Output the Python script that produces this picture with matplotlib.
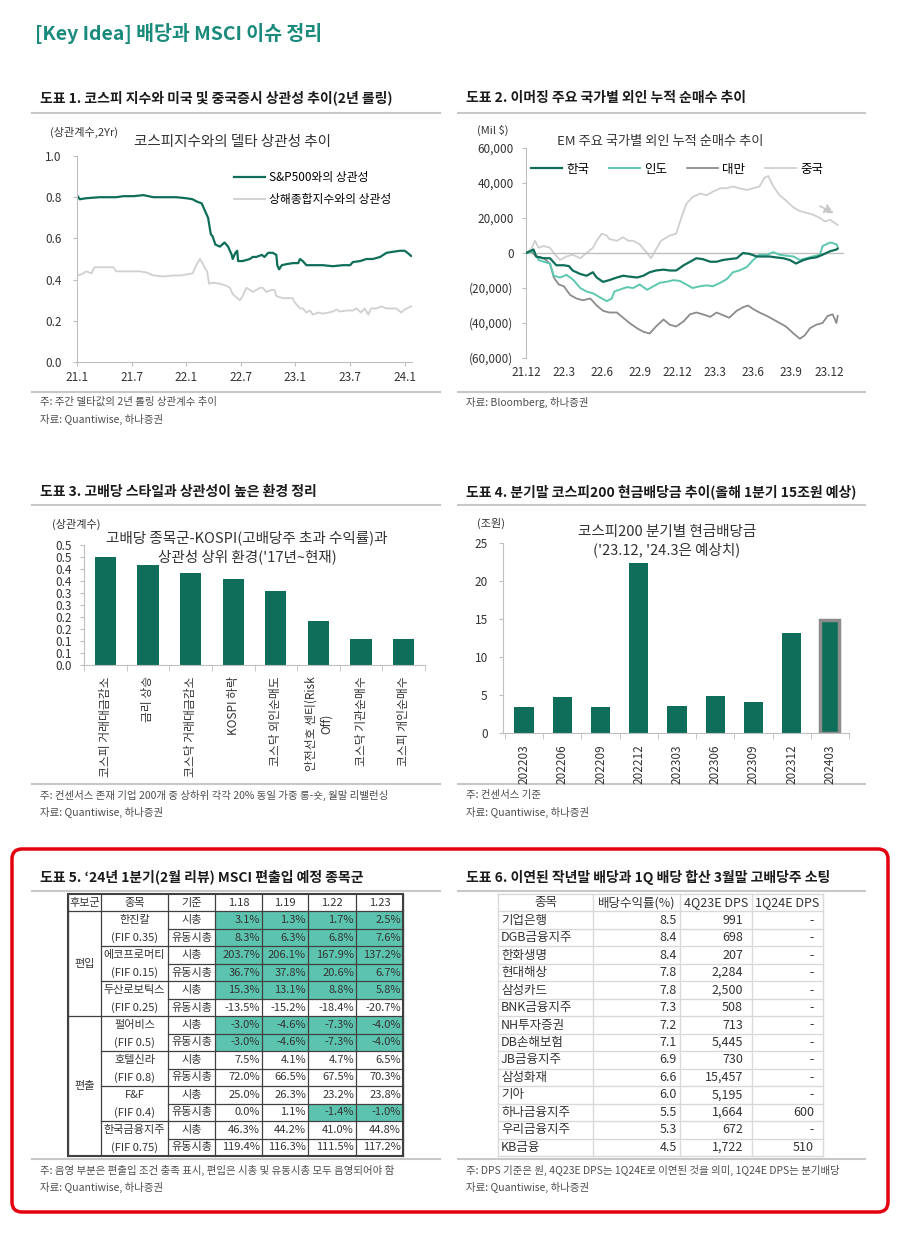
import numpy as np
import matplotlib
matplotlib.use("Agg")
import matplotlib.pyplot as plt
from matplotlib.patches import Rectangle, FancyBboxPatch

plt.rcParams['font.family'] = ['Noto Sans CJK KR', 'DejaVu Sans']
plt.rcParams['axes.unicode_minus'] = False

# ---------------- data ----------------
# chart 1: months since 2021-01, correlation
sp_m = [0.0, 0.3, 1.0, 2.5, 4.3, 5.1, 6.2, 7.3, 8.4, 9.8, 10.9, 12.0, 12.7, 13.1, 13.7, 14.0, 14.4, 14.7, 14.9, 15.2,
        15.7, 16.2, 16.6, 17.0, 17.1, 17.4, 17.6, 17.7, 18.2, 19.0, 19.3, 19.7, 20.3, 20.6, 21.0, 21.5, 21.9, 22.0,
        22.2, 22.5, 23.0, 23.7, 24.3, 24.5, 24.8, 25.2, 25.9, 27.0, 28.1, 29.2, 30.0, 30.3, 31.1, 31.8, 32.5, 33.3,
        34.0, 34.7, 35.5, 36.0, 36.3, 36.7]
sp_v = [0.81, 0.79, 0.795, 0.80, 0.80, 0.805, 0.805, 0.81, 0.80, 0.80, 0.80, 0.795, 0.79, 0.78, 0.77, 0.74, 0.70,
        0.62, 0.61, 0.57, 0.56, 0.58, 0.56, 0.52, 0.50, 0.53, 0.54, 0.49, 0.49, 0.50, 0.51, 0.51, 0.52, 0.51, 0.53,
        0.53, 0.52, 0.47, 0.45, 0.47, 0.475, 0.48, 0.48, 0.50, 0.49, 0.47, 0.47, 0.47, 0.465, 0.47, 0.47, 0.485,
        0.49, 0.50, 0.50, 0.51, 0.53, 0.535, 0.54, 0.54, 0.53, 0.515]
sh_m = [0.0, 0.5, 1.0, 1.6, 1.9, 2.5, 3.2, 4.0, 4.3, 5.4, 6.9, 7.6, 8.4, 9.5, 10.5, 11.3, 12.0, 12.7, 13.1, 13.5,
        13.8, 14.0, 14.3, 14.5, 14.9, 15.7, 16.4, 16.8, 17.1, 17.6, 17.9, 18.2, 18.6, 19.0, 19.3, 20.1, 20.4, 20.8,
        21.4, 21.7, 21.9, 22.6, 23.4, 23.7, 23.9, 24.5, 24.8, 25.2, 25.6, 25.9, 26.5, 27.0, 27.6, 28.1, 28.5, 28.9,
        29.6, 30.3, 30.7, 31.2, 31.6, 32.0, 32.3, 32.9, 33.4, 34.0, 35.1, 35.6, 36.0, 36.7]
sh_v = [0.42, 0.425, 0.44, 0.43, 0.46, 0.46, 0.46, 0.46, 0.44, 0.44, 0.44, 0.435, 0.42, 0.415, 0.42, 0.42, 0.425,
        0.43, 0.47, 0.50, 0.48, 0.46, 0.44, 0.38, 0.385, 0.38, 0.37, 0.36, 0.33, 0.31, 0.30, 0.32, 0.36, 0.35, 0.34,
        0.36, 0.36, 0.34, 0.35, 0.35, 0.32, 0.31, 0.31, 0.31, 0.29, 0.26, 0.26, 0.24, 0.25, 0.23, 0.24, 0.235, 0.24,
        0.245, 0.255, 0.245, 0.25, 0.25, 0.26, 0.24, 0.26, 0.23, 0.26, 0.26, 0.27, 0.26, 0.26, 0.24, 0.255, 0.27]
c1_ticks = ['21.1', '21.7', '22.1', '22.7', '23.1', '23.7', '24.1']

# chart 2: months since 2021-12, cumulative net buy (Mil $)
kr_m = [0.0, 0.3, 0.6, 0.8, 1.4, 1.9, 2.4, 3.0, 3.4, 3.7, 4.3, 4.8, 5.3, 5.6, 6.1, 6.6, 7.2, 7.7, 8.2, 8.8, 9.3,
        9.8, 10.3, 10.9, 11.4, 11.9, 12.5, 13.0, 13.5, 14.0, 14.6, 15.1, 15.6, 16.1, 16.7, 17.2, 17.7, 18.3, 18.8,
        19.3, 19.8, 20.4, 20.9, 21.4, 22.0, 22.5, 23.0, 23.5, 24.1, 24.6, 24.7]
kr_v = [0, 1000, 2000, -2000, -3000, -3000, -7000, -7000, -7500, -10000, -12000, -13000, -11000, -14000, -16500,
        -15500, -14000, -13000, -13500, -14000, -13000, -11000, -10000, -9500, -10000, -10000, -7000, -5000, -3000,
        -3500, -5000, -5000, -4000, -3500, -3000, 0, -500, -2000, -2000, -2000, -2500, -3000, -4000, -6000, -4000,
        -3000, -2500, -1000, 1000, 2000, 2500]
in_m = [0.0, 0.6, 1.0, 1.4, 1.9, 2.2, 2.7, 3.2, 3.7, 4.3, 4.8, 5.3, 5.9, 6.4, 6.8, 7.0, 7.4, 8.0, 8.5, 9.0, 9.6,
        10.1, 10.6, 11.1, 11.7, 12.2, 12.7, 13.2, 13.8, 14.3, 14.8, 15.4, 15.9, 16.4, 16.9, 17.5, 18.0, 18.5, 19.1,
        19.6, 20.1, 20.6, 21.2, 21.7, 22.2, 22.7, 23.3, 23.5, 24.1, 24.6, 24.7]
in_v = [0, 1000, -4000, -5000, -6000, -13000, -14000, -12500, -15000, -20000, -22000, -23000, -25500, -27500,
        -26000, -22000, -21000, -19500, -20000, -18000, -21000, -19000, -17000, -16500, -15500, -16000, -18000,
        -20000, -19000, -18500, -19000, -17000, -15000, -11000, -10000, -8000, -4000, -1000, -1000, 500, -1000,
        -1500, -2000, -4000, -3000, -2000, -1000, 4000, 6000, 5000, 3500]
tw_m = [0.0, 0.4, 0.8, 1.4, 1.9, 2.2, 2.6, 3.0, 3.5, 4.0, 4.5, 5.1, 5.6, 6.1, 6.6, 7.2, 7.7, 8.2, 8.8, 9.3, 9.8,
        10.3, 10.9, 11.4, 11.9, 12.5, 13.0, 13.5, 14.0, 14.6, 15.1, 15.6, 16.1, 16.7, 17.2, 17.6, 18.0, 18.5, 19.1,
        19.6, 20.1, 20.6, 21.2, 21.7, 22.1, 22.5, 23.0, 23.5, 23.9, 24.3, 24.6, 24.7]
tw_v = [0, 1000, -2000, -3000, -6000, -14000, -18000, -19000, -24000, -26000, -27000, -26000, -30000, -33000,
        -34000, -34000, -37000, -40000, -43000, -45000, -46000, -42000, -38000, -41000, -42000, -39000, -35000,
        -34000, -35000, -36500, -34000, -35500, -37000, -33000, -31000, -30000, -32000, -34000, -36000, -38000,
        -40000, -42000, -46000, -49000, -47000, -43000, -41000, -40000, -36000, -35000, -40000, -36000]
cn_m = [0.0, 0.4, 0.7, 1.0, 1.4, 1.9, 2.3, 2.7, 3.2, 3.7, 4.3, 4.8, 5.3, 5.6, 6.0, 6.4, 6.6, 7.2, 7.7, 8.1, 8.5,
        9.0, 9.6, 9.9, 10.3, 10.7, 11.4, 11.9, 12.3, 12.7, 13.2, 13.8, 14.3, 14.8, 15.4, 15.9, 16.4, 16.9, 17.5,
        18.0, 18.5, 18.9, 19.2, 19.6, 20.1, 20.6, 21.2, 21.7, 22.2, 22.7, 23.3, 23.7, 24.1, 24.5, 24.7]
cn_v = [0, 2000, 7000, 3000, 4000, 3000, -1000, -4000, -2000, -1000, -3000, 0, 3000, 7000, 11000, 10000, 8000,
        7000, 9000, 7000, 7000, 5000, 0, -3000, 2000, 7000, 10000, 11000, 20000, 28000, 32000, 34000, 33000, 35000,
        37000, 37000, 38000, 37000, 36000, 37000, 38000, 43000, 44000, 38000, 33000, 30000, 26000, 24000, 23000,
        22000, 20000, 18000, 19000, 17000, 16000]
c2_ticks = ['21.12', '22.3', '22.6', '22.9', '22.12', '23.3', '23.6', '23.9', '23.12']
c2_yticks = ['(60,000)', '(40,000)', '(20,000)', '0', '20,000', '40,000', '60,000']

# chart 3
c3_cats = ['코스피 거래대금감소', '금리 상승', '코스닥 거래대금감소', 'KOSPI 하락', '코스닥 외인순매도',
           '안전선호 센티(Risk\nOff)', '코스닥 기관순매수', '코스피 개인순매수']
c3_vals = [0.45, 0.415, 0.385, 0.36, 0.31, 0.185, 0.11, 0.11]
c3_yticks = ['0.0', '0.1', '0.1', '0.2', '0.2', '0.3', '0.3', '0.4', '0.4', '0.5', '0.5']

# chart 4
c4_cats = ['202203', '202206', '202209', '202212', '202303', '202306', '202309', '202312', '202403']
c4_vals = [3.4, 4.7, 3.4, 22.4, 3.5, 4.9, 4.1, 13.2, 14.9]

# table 5
t5_groups = ['편입', '편출']
t5_spans = [6, 8]
t5_names = ['한진칼', '에코프로머티', '두산로보틱스', '펄어비스', '호텔신라', 'F&F', '한국금융지주']
t5_fif = ['(FIF 0.35)', '(FIF 0.15)', '(FIF 0.25)', '(FIF 0.5)', '(FIF 0.8)', '(FIF 0.4)', '(FIF 0.75)']
t5_basis = ['시총', '유동시총']
t5_dates = ['1.18', '1.19', '1.22', '1.23']
t5_vals = [['3.1%', '1.3%', '1.7%', '2.5%'],
           ['8.3%', '6.3%', '6.8%', '7.6%'],
           ['203.7%', '206.1%', '167.9%', '137.2%'],
           ['36.7%', '37.8%', '20.6%', '6.7%'],
           ['15.3%', '13.1%', '8.8%', '5.8%'],
           ['-13.5%', '-15.2%', '-18.4%', '-20.7%'],
           ['-3.0%', '-4.6%', '-7.3%', '-4.0%'],
           ['-3.0%', '-4.6%', '-7.3%', '-4.0%'],
           ['7.5%', '4.1%', '4.7%', '6.5%'],
           ['72.0%', '66.5%', '67.5%', '70.3%'],
           ['25.0%', '26.3%', '23.2%', '23.8%'],
           ['0.0%', '1.1%', '-1.4%', '-1.0%'],
           ['46.3%', '44.2%', '41.0%', '44.8%'],
           ['119.4%', '116.3%', '111.5%', '117.2%']]
t5_shade = [[1, 1, 1, 1], [1, 1, 1, 1], [1, 1, 1, 1], [1, 1, 1, 1], [1, 1, 1, 1], [0, 0, 0, 0],
            [1, 1, 1, 1], [1, 1, 1, 1], [0, 0, 0, 0], [0, 0, 0, 0], [0, 0, 0, 0], [0, 0, 1, 1],
            [0, 0, 0, 0], [0, 0, 0, 0]]

# table 6
t6_header = ['종목', '배당수익률(%)', '4Q23E DPS', '1Q24E DPS']
t6_names = ['기업은행', 'DGB금융지주', '한화생명', '현대해상', '삼성카드', 'BNK금융지주', 'NH투자증권',
            'DB손해보험', 'JB금융지주', '삼성화재', '기아', '하나금융지주', '우리금융지주', 'KB금융']
t6_yield = [8.5, 8.4, 8.4, 7.8, 7.8, 7.3, 7.2, 7.1, 6.9, 6.6, 6.0, 5.5, 5.3, 4.5]
t6_dps4q = [991, 698, 207, 2284, 2500, 508, 713, 5445, 730, 15457, 5195, 1664, 672, 1722]
t6_dps1q = [None, None, None, None, None, None, None, None, None, None, None, 600, None, 510]

# ---------------- styles ----------------
GREEN = '#0e6e5a'
TEAL = '#5cc8b0'
SHADE = '#5cc4ae'
SPINE = '#bfbfbf'
TXT = '#333333'
NOTE = '#4d4d4d'

W, H = 900, 1233
fig = plt.figure(figsize=(9, 12.33), dpi=100)
fig.patch.set_facecolor('white')


def px_axes(l, t, r, b):
    ax = fig.add_axes([l / W, 1 - b / H, (r - l) / W, (b - t) / H])
    ax.set_facecolor('none')
    return ax


ov = fig.add_axes([0, 0, 1, 1])
ov.set_xlim(0, W)
ov.set_ylim(H, 0)
ov.axis('off')

ov.text(35, 33, '[Key Idea] 배당과 MSCI 이슈 정리', fontsize=14, fontweight='bold', color='#1a8a7c',
        ha='left', va='center')


def section(x0, x1, y_title, y_line, title):
    ov.text(x0 + 8, y_title, title, fontsize=10, fontweight='bold', color='#1a1a1a', ha='left', va='center')
    ov.plot([x0, x1], [y_line, y_line], color='#c8c8c8', lw=1.5)


def notes(x0, x1, y_line, lines, y0):
    ov.plot([x0, x1], [y_line, y_line], color='#c8c8c8', lw=1.5)
    for k, s in enumerate(lines):
        ov.text(x0 + 8, y0 + k * 17, s, fontsize=7.5, color=NOTE, ha='left', va='center')


section(32, 440, 98, 113, '도표 1. 코스피 지수와 미국 및 중국증시 상관성 추이(2년 롤링)')
section(458, 865, 98, 113, '도표 2. 이머징 주요 국가별 외인 누적 순매수 추이')
section(32, 440, 492, 505, '도표 3. 고배당 스타일과 상관성이 높은 환경 정리')
section(458, 865, 492, 505, '도표 4. 분기말 코스피200 현금배당금 추이(올해 1분기 15조원 예상)')
section(32, 440, 877, 891, '도표 5. ‘24년 1분기(2월 리뷰) MSCI 편출입 예정 종목군')
section(458, 865, 877, 891, '도표 6. 이연된 작년말 배당과 1Q 배당 합산 3월말 고배당주 소팅')

notes(32, 440, 392, ['주: 주간 델타값의 2년 롤링 상관계수 추이', '자료: Quantiwise, 하나증권'], 402)
notes(458, 865, 392, ['자료: Bloomberg, 하나증권'], 402)
notes(32, 440, 784, ['주: 컨센서스 존재 기업 200개 중 상하위 각각 20% 동일 가중 롱-숏, 월말 리밸런싱',
                     '자료: Quantiwise, 하나증권'], 795)
notes(458, 865, 784, ['주: 컨센서스 기준', '자료: Quantiwise, 하나증권'], 795)
notes(32, 440, 1159, ['주: 음영 부분은 편출입 조건 충족 표시, 편입은 시총 및 유동시총 모두 음영되어야 함',
                      '자료: Quantiwise, 하나증권'], 1170)
notes(458, 865, 1159, ['주: DPS 기준은 원, 4Q23E DPS는 1Q24E로 이연된 것을 의미, 1Q24E DPS는 분기배당',
                       '자료: Quantiwise, 하나증권'], 1170)


def style_axes(ax):
    for s in ['top', 'right']:
        ax.spines[s].set_visible(False)
    for s in ['left', 'bottom']:
        ax.spines[s].set_color(SPINE)
    ax.tick_params(colors=SPINE, labelcolor=TXT, labelsize=8.5, length=3)


# ---------------- chart 1 ----------------
ax1 = px_axes(77, 156, 412, 362)
ax1.plot(sp_m, sp_v, color=GREEN, lw=1.6, label='S&P500와의 상관성')
ax1.plot(sh_m, sh_v, color='#d0d0d0', lw=1.3, label='상해종합지수와의 상관성')
ax1.set_xlim(0, 36.8)
ax1.set_ylim(0, 1)
ax1.set_xticks([0, 6, 12, 18, 24, 30, 36])
ax1.set_xticklabels(c1_ticks)
ax1.set_yticks([0, 0.2, 0.4, 0.6, 0.8, 1.0])
ax1.set_yticklabels(['0.0', '0.2', '0.4', '0.6', '0.8', '1.0'])
style_axes(ax1)
ax1.tick_params(axis='y', pad=8)
ax1.legend(loc='upper left', bbox_to_anchor=(0.47, 0.925), frameon=False, fontsize=8.5, handlelength=2.6,
           handletextpad=0.3, labelspacing=0.75, borderaxespad=0, borderpad=0)
ov.text(50, 132, '(상관계수,2Yr)', fontsize=8, color=TXT, ha='left', va='center')
ov.text(233, 142, '코스피지수와의 델타 상관성 추이', fontsize=10.5, color=TXT, ha='center', va='center')

# ---------------- chart 2 ----------------
ax2 = px_axes(526, 148, 844, 358)
ax2.axhline(0, color=SPINE, lw=1)
ax2.plot(kr_m, kr_v, color=GREEN, lw=1.6, label='한국', zorder=4)
ax2.plot(in_m, in_v, color=TEAL, lw=1.4, label='인도', zorder=3)
ax2.plot(tw_m, tw_v, color='#8c8c8c', lw=1.3, label='대만', zorder=2)
ax2.plot(cn_m, cn_v, color='#cfcfcf', lw=1.3, label='중국', zorder=1)
ax2.annotate('', xy=(24.6, 22000), xytext=(23.1, 27500),
             arrowprops=dict(arrowstyle='-|>', linestyle=(0, (3, 2)), color='#c8c8c8', lw=1.2,
                             mutation_scale=14))
ax2.set_xlim(0, 25.2)
ax2.set_ylim(-60000, 60000)
ax2.set_xticks([0, 3, 6, 9, 12, 15, 18, 21, 24])
ax2.set_xticklabels(c2_ticks)
ax2.set_yticks([-60000, -40000, -20000, 0, 20000, 40000, 60000])
ax2.set_yticklabels(c2_yticks)
style_axes(ax2)
ax2.spines['bottom'].set_visible(False)
ax2.tick_params(axis='x', length=0, pad=6)
ax2.tick_params(axis='y', pad=6)
ax2.legend(ncol=4, loc='center', bbox_to_anchor=(0.475, 0.9), frameon=False, fontsize=9, handlelength=2.5,
           handletextpad=0.3, columnspacing=1.6, borderpad=0)
ov.text(477, 130, '(Mil $)', fontsize=8, color=TXT, ha='left', va='center')
ov.text(660, 141, 'EM 주요 국가별 외인 누적 순매수 추이', fontsize=9.5, color=TXT, ha='center', va='center')

# ---------------- chart 3 ----------------
ax3 = px_axes(84, 545, 425, 665)
x3 = np.arange(len(c3_cats))
ax3.bar(x3, c3_vals, width=0.5, color=GREEN)
ax3.set_xlim(-0.5, len(c3_cats) - 0.5)
ax3.set_ylim(0, 0.5)
ax3.set_yticks(np.linspace(0, 0.5, 11))
ax3.set_yticklabels(c3_yticks)
ax3.set_xticks(x3)
ax3.set_xticklabels(c3_cats, rotation=90, va='top', ha='center')
ax3.set_xticks(np.arange(len(c3_cats) + 1) - 0.5, minor=True)
style_axes(ax3)
ax3.tick_params(axis='x', which='major', length=0, pad=8, labelsize=8.5)
ax3.tick_params(axis='x', which='minor', length=4, color=SPINE)
ax3.tick_params(axis='y', labelsize=8.5, pad=6)
ov.text(52, 524, '(상관계수)', fontsize=8, color=TXT, ha='left', va='center')
ov.text(247, 538, '고배당 종목군-KOSPI(고배당주 초과 수익률)과', fontsize=10.5, color=TXT, ha='center', va='center')
ov.text(247, 557, "상관성 상위 환경('17년~현재)", fontsize=10.5, color=TXT, ha='center', va='center')

# ---------------- chart 4 ----------------
ax4 = px_axes(503, 543, 849, 733)
x4 = np.arange(len(c4_cats))
bars = ax4.bar(x4, c4_vals, width=0.5, color=GREEN)
bars[-1].set_edgecolor('#8c8c8c')
bars[-1].set_linewidth(2.5)
ax4.set_xlim(-0.55, len(c4_cats) - 0.5)
ax4.set_ylim(0, 25)
ax4.set_yticks([0, 5, 10, 15, 20, 25])
ax4.set_xticks(x4)
ax4.set_xticklabels(c4_cats, rotation=90, va='top', ha='center')
ax4.set_xticks(np.arange(len(c4_cats) + 1) - 0.5, minor=True)
style_axes(ax4)
ax4.tick_params(axis='x', which='major', length=0, pad=8, labelsize=8.5)
ax4.tick_params(axis='x', which='minor', length=4, color=SPINE)
ax4.tick_params(axis='y', pad=8)
ov.text(477, 523, '(조원)', fontsize=8, color=TXT, ha='left', va='center')
ov.text(667, 532, '코스피200 분기별 현금배당금', fontsize=10.5, color=TXT, ha='center', va='center')
ov.text(667, 550, "('23.12, '24.3은 예상치)", fontsize=10.5, color=TXT, ha='center', va='center')

# ---------------- table 5 ----------------
c5 = [68, 101, 168, 215, 262, 308, 356, 403]
top, rh = 894, 17.47
LINE = '#404040'


def ry(i):
    return top + i * rh


for i, row in enumerate(t5_shade):
    for j, s in enumerate(row):
        if s:
            ov.add_patch(Rectangle((c5[3 + j], ry(i + 1)), c5[4 + j] - c5[3 + j], rh, facecolor=SHADE,
                                   edgecolor='none'))
fs5 = 8
for j, h in enumerate(['후보군', '종목', '기준'] + t5_dates):
    ov.text((c5[j] + c5[j + 1]) / 2, ry(0.5), h, fontsize=fs5, color=TXT, ha='center', va='center')
start = 1
for g, span in zip(t5_groups, t5_spans):
    ov.text((c5[0] + c5[1]) / 2, ry(start + span / 2), g, fontsize=fs5, color=TXT, ha='center', va='center')
    start += span
for k, (n, f) in enumerate(zip(t5_names, t5_fif)):
    ov.text((c5[1] + c5[2]) / 2, ry(1 + 2 * k + 0.5), n, fontsize=fs5, color=TXT, ha='center', va='center')
    ov.text((c5[1] + c5[2]) / 2, ry(2 + 2 * k + 0.5), f, fontsize=fs5, color=TXT, ha='center', va='center')
for i, row in enumerate(t5_vals):
    ov.text((c5[2] + c5[3]) / 2, ry(i + 1.5), t5_basis[i % 2], fontsize=fs5, color=TXT, ha='center', va='center')
    for j, v in enumerate(row):
        ov.text(c5[4 + j] - 2, ry(i + 1.5), v, fontsize=fs5, color=TXT, ha='right', va='center')
for x in c5:
    ov.plot([x, x], [ry(0), ry(15)], color=LINE, lw=0.9)
for i in range(1, 15):
    if i == 1 or i == 7:
        x0 = c5[0]
    elif i % 2 == 1:
        x0 = c5[1]
    else:
        x0 = c5[2]
    ov.plot([x0, c5[-1]], [ry(i), ry(i)], color=LINE, lw=0.9)
ov.add_patch(Rectangle((c5[0], ry(0)), c5[-1] - c5[0], ry(15) - ry(0), fill=False, edgecolor=LINE, lw=1.5))

# ---------------- table 6 ----------------
c6 = [498, 593, 680, 752, 823]
GRID6 = '#d9d9d9'
fs6 = 9
for i in range(16):
    ov.plot([c6[0], c6[-1]], [ry(i), ry(i)], color=GRID6, lw=1)
for x in c6:
    ov.plot([x, x], [ry(0), ry(15)], color=GRID6, lw=1)
for j, h in enumerate(t6_header):
    ov.text((c6[j] + c6[j + 1]) / 2, ry(0.5), h, fontsize=fs6, color=TXT, ha='center', va='center')
for i in range(len(t6_names)):
    yy = ry(i + 1.5)
    ov.text(c6[0] + 3, yy, t6_names[i], fontsize=fs6, color=TXT, ha='left', va='center')
    ov.text(c6[2] - 3, yy, f'{t6_yield[i]:.1f}', fontsize=fs6, color=TXT, ha='right', va='center')
    ov.text(c6[3] - 9, yy, f'{t6_dps4q[i]:,}', fontsize=fs6, color=TXT, ha='right', va='center')
    q = t6_dps1q[i]
    ov.text(c6[4] - 9, yy, '-' if q is None else f'{q:,}', fontsize=fs6, color=TXT, ha='right', va='center')

# red highlight box
ov.add_patch(FancyBboxPatch((12, 849), 876, 363, boxstyle='round,pad=0,rounding_size=10', fill=False,
                            edgecolor='#e3000f', lw=2.5))

fig.savefig('out.png', dpi=100, facecolor='white')
